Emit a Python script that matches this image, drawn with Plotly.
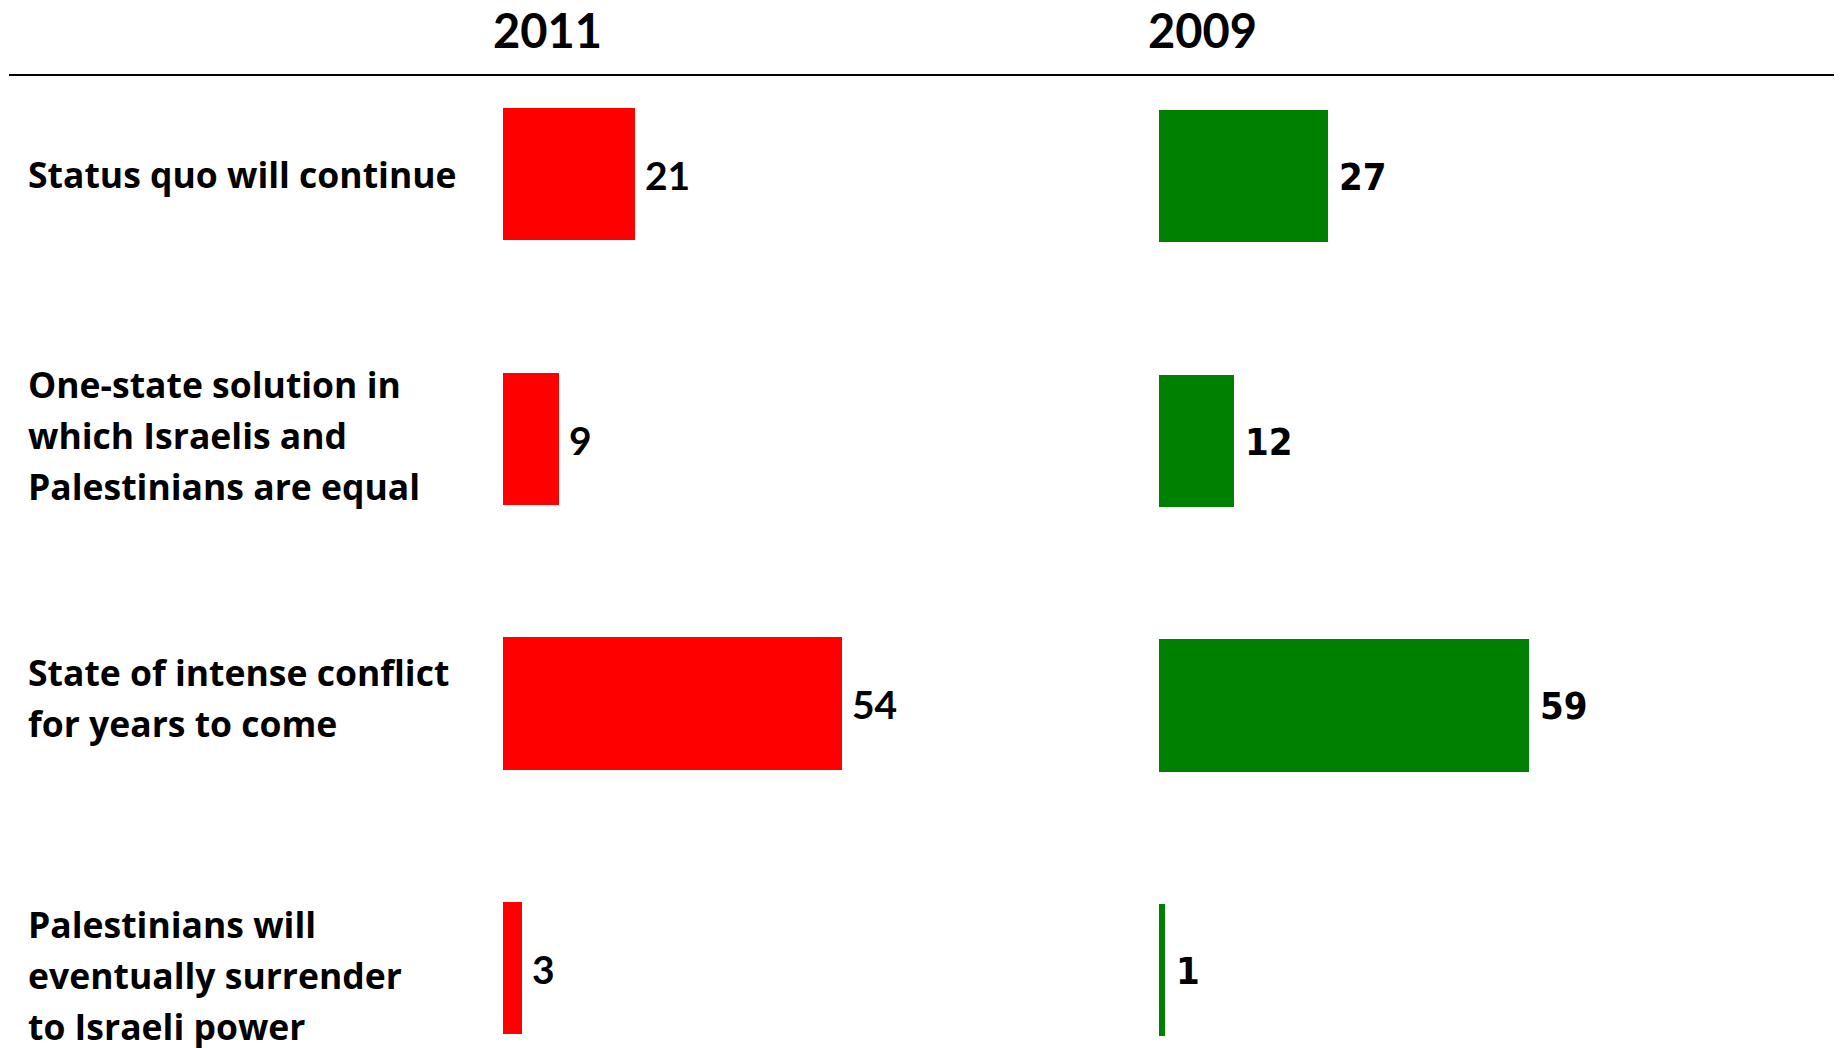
import plotly.graph_objects as go

# ---- data ----
categories = [
    "Status quo will continue",
    "One-state solution in<br>which Israelis and<br>Palestinians are equal",
    "State of intense conflict<br>for years to come",
    "Palestinians will<br>eventually surrender<br>to Israeli power",
]
values_2011 = [21, 9, 54, 3]
values_2009 = [27, 12, 59, 1]
year_labels = ["2011", "2009"]

# ---- styles ----
W, H = 1843, 1048
RED = "#FF0000"
GREEN = "#008000"
LABEL_FONT = "Lato"
CAT_FONT = "Open Sans"
label_line_gap = 51          # px between lines of a category label
label_offsets = [0, -4, -6, 7]  # px, fine vertical adjust of category labels

fig = go.Figure()

fig.add_trace(go.Bar(
    x=values_2011, y=categories, orientation="h",
    marker=dict(color=RED, line=dict(width=0)), width=0.5,
    xaxis="x", yaxis="y", showlegend=False, hoverinfo="x+y",
))
fig.add_trace(go.Bar(
    x=values_2009, y=categories, orientation="h",
    marker=dict(color=GREEN, line=dict(width=0)), width=0.5,
    xaxis="x2", yaxis="y2", showlegend=False, hoverinfo="x+y",
))

annotations = []
# value labels
for c, v in zip(categories, values_2011):
    annotations.append(dict(
        x=v, y=c, xref="x", yref="y", text=str(v), showarrow=False,
        xanchor="left", yanchor="middle", xshift=8, yshift=-1,
        font=dict(family=LABEL_FONT, size=39, color="black", weight="bold"),
    ))
for c, v in zip(categories, values_2009):
    annotations.append(dict(
        x=v, y=c, xref="x2", yref="y2", text=str(v), showarrow=False,
        xanchor="left", yanchor="middle", xshift=9, yshift=-1,
        font=dict(family="DejaVu Sans Condensed", size=38, color="black", weight="bold"),
    ))

# category labels (one annotation per line for exact line spacing)
for c, off in zip(categories, label_offsets):
    lines = c.split("<br>")
    n = len(lines)
    for k, line in enumerate(lines):
        dy = (k - (n - 1) / 2) * label_line_gap + off
        annotations.append(dict(
            x=26 / W, y=c, xref="paper", yref="y", text=line, showarrow=False,
            xanchor="left", yanchor="middle", yshift=-dy,
            font=dict(family=CAT_FONT, size=35.5, color="black", weight="bold"),
        ))

# column titles
for lab, px in zip(year_labels, [547, 1202]):
    annotations.append(dict(
        x=px / W, y=1 - 30 / H, xref="paper", yref="paper", text=lab,
        showarrow=False, xanchor="center", yanchor="middle",
        font=dict(family=LABEL_FONT, size=47, color="black", weight="bold"),
    ))

fig.update_layout(
    width=W, height=H,
    margin=dict(l=0, r=0, t=0, b=0),
    paper_bgcolor="white", plot_bgcolor="white",
    annotations=annotations,
    shapes=[dict(type="line", xref="paper", yref="paper",
                 x0=9 / W, x1=1834 / W, y0=1 - 75 / H, y1=1 - 75 / H,
                 line=dict(color="black", width=2))],
    xaxis=dict(domain=[503 / W, (503 + 627) / W], range=[0, 100], visible=False),
    xaxis2=dict(domain=[1159 / W, (1159 + 627) / W], range=[0, 100], visible=False),
    yaxis=dict(domain=[0, 1], type="category", range=[3.302, -0.6574], visible=False),
    yaxis2=dict(domain=[0, 1], type="category", range=[3.294, -0.6649], visible=False,
                overlaying="y", anchor="x2"),
    bargap=0,
)

fig.write_html("out.html", config={"displayModeBar": False},
               post_script="document.body.style.margin='0';document.body.style.overflow='hidden';")
